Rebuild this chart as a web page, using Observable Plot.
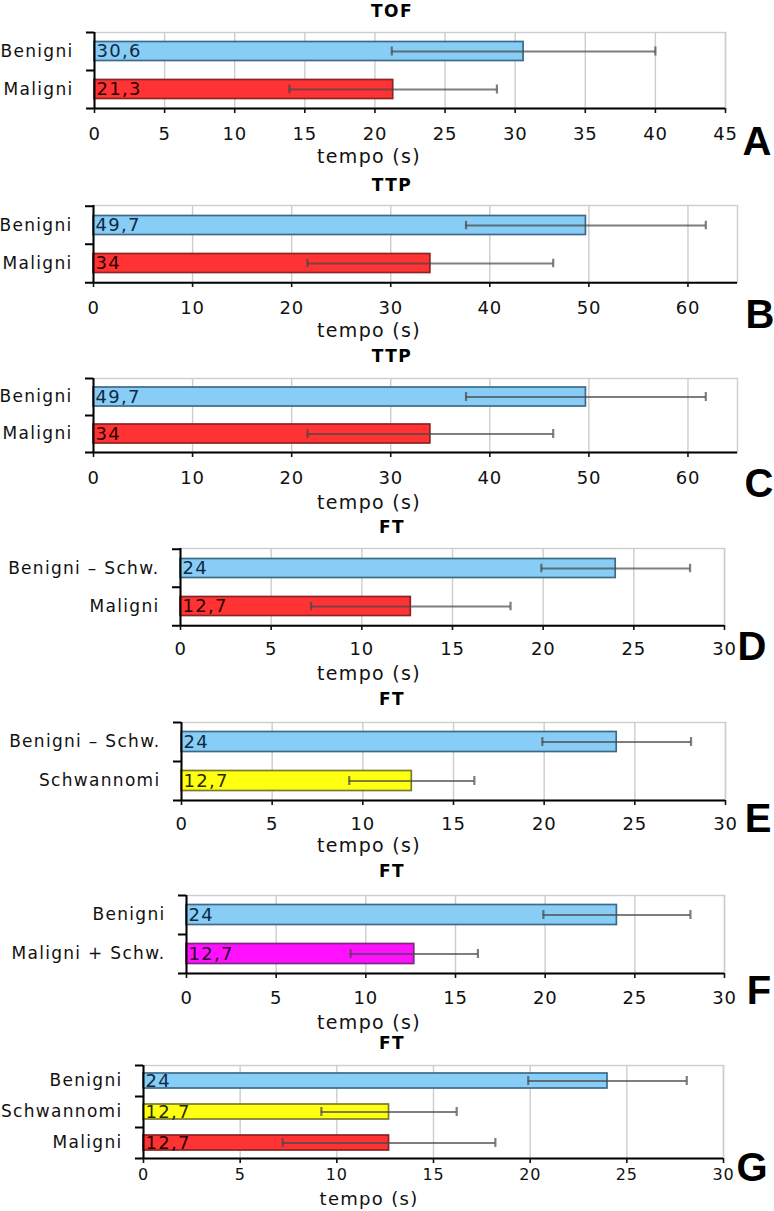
<!DOCTYPE html>
<html>
<head>
<meta charset="utf-8">
<script src="https://cdn.jsdelivr.net/npm/d3@7"></script>
<script src="https://cdn.jsdelivr.net/npm/@observablehq/plot@0.6"></script>
<style>
  html, body { margin: 0; padding: 0; background: #fff; }
  #root { position: relative; width: 774px; height: 1211px; background: #fff; overflow: hidden; font-family: "DejaVu Sans", Verdana, sans-serif; color: #1a1a1a; }
  .panel { position: absolute; left: 0; }
  .panel svg { overflow: visible; }
  .ov { position: absolute; transform: translate(-50%, -50%); white-space: nowrap; line-height: 1; }
  .ttl { font-weight: bold; font-size: 17px; letter-spacing: 1.5px; color: #000; }
  .xl { font-size: 19px; letter-spacing: 1.3px; color: #111; }
  .let { font-family: "Liberation Sans Narrow", "Liberation Sans", Arial, sans-serif; font-weight: bold; font-size: 40px; color: #000; }
  g[aria-label="x-axis tick label"] text { letter-spacing: 0.8px; }
  g[aria-label="y-axis tick label"] text { letter-spacing: 1.3px; }
  g[aria-label="text"] text { letter-spacing: 1.3px; }
</style>
</head>
<body>
<div id="root"></div>
<script>
// ---------------- data ----------------
const panelLetters = ["A", "B", "C", "D", "E", "F", "G"];
const panelTitles = ["TOF", "TTP", "TTP", "FT", "FT", "FT", "FT"];
const axisTitle = "tempo (s)";

const catsA = ["Benigni", "Maligni"];
const groupsA = ["ben", "mal"];
const meanA = [30.6, 21.3];
const errA = [9.4, 7.4];

const catsB = ["Benigni", "Maligni"];
const groupsB = ["ben", "mal"];
const meanB = [49.7, 34];
const errB = [12.1, 12.4];

const catsC = ["Benigni", "Maligni"];
const groupsC = ["ben", "mal"];
const meanC = [49.7, 34];
const errC = [12.1, 12.4];

const catsD = ["Benigni – Schw.", "Maligni"];
const groupsD = ["ben", "mal"];
const meanD = [24, 12.7];
const errD = [4.1, 5.5];

const catsE = ["Benigni – Schw.", "Schwannomi"];
const groupsE = ["ben", "schw"];
const meanE = [24, 12.7];
const errE = [4.1, 3.45];

const catsF = ["Benigni", "Maligni + Schw."];
const groupsF = ["ben", "malschw"];
const meanF = [24, 12.7];
const errF = [4.1, 3.55];

const catsG = ["Benigni", "Schwannomi", "Maligni"];
const groupsG = ["ben", "schw", "mal"];
const meanG = [24, 12.7, 12.7];
const errG = [4.1, 3.5, 5.5];

const ticksTOF = [0, 5, 10, 15, 20, 25, 30, 35, 40, 45];
const ticksTTP = [0, 10, 20, 30, 40, 50, 60];
const ticksFT = [0, 5, 10, 15, 20, 25, 30];
const maxTOF = 45, maxTTP = 65, maxFT = 30;

// ---------------- styles ----------------
const fillColors = {ben: "#88cdf6", mal: "#ff3333", schw: "#ffff10", malschw: "#ff10ff"};
const strokeColors = {ben: "#3e6a88", mal: "#8a2424", schw: "#7a7a30", malschw: "#7a2a7a"};
const textColors = {ben: "#102a44", mal: "#2a0000", schw: "#2a2a00", malschw: "#2a002a"};

// layout per panel (pixels)
const layouts = [
  {top: 32,   bottom: 108,  left: 94,  right: 725, inset: 9.5, tickPad: 14, tickFont: 18, titleY: 11,   labelY: 156,  letX: 757, letY: 141},
  {top: 205,  bottom: 282,  left: 93,  right: 737, inset: 9.5, tickPad: 14, tickFont: 18, titleY: 185,  labelY: 330,  letX: 760, letY: 314},
  {top: 378,  bottom: 452,  left: 93,  right: 737, inset: 9,   tickPad: 14, tickFont: 18, titleY: 356,  labelY: 502,  letX: 759, letY: 483},
  {top: 548,  bottom: 625,  left: 180, right: 724, inset: 9.5, tickPad: 12, tickFont: 18, titleY: 527,  labelY: 673,  letX: 752, letY: 646},
  {top: 722,  bottom: 800,  left: 181, right: 725, inset: 9.5, tickPad: 12, tickFont: 18, titleY: 699,  labelY: 845,  letX: 758, letY: 818},
  {top: 895,  bottom: 973,  left: 186, right: 724, inset: 9.5, tickPad: 13, tickFont: 18, titleY: 871,  labelY: 1022, letX: 759, letY: 990},
  {top: 1065, bottom: 1158, left: 143, right: 723, inset: 8,   tickPad: 5,  tickFont: 16, titleY: 1043, labelY: 1199, letX: 752, letY: 1167}
];

const panels = [
  [catsA, groupsA, meanA, errA, ticksTOF, maxTOF],
  [catsB, groupsB, meanB, errB, ticksTTP, maxTTP],
  [catsC, groupsC, meanC, errC, ticksTTP, maxTTP],
  [catsD, groupsD, meanD, errD, ticksFT, maxFT],
  [catsE, groupsE, meanE, errE, ticksFT, maxFT],
  [catsF, groupsF, meanF, errF, ticksFT, maxFT],
  [catsG, groupsG, meanG, errG, ticksFT, maxFT]
];

const root = document.getElementById("root");
const W = 774;
const fmt = (v) => String(v).replace(".", ",");

function overlay(text, cls, x, y, size) {
  const d = document.createElement("div");
  d.className = "ov " + cls;
  d.textContent = text;
  d.style.left = x + "px";
  d.style.top = y + "px";
  if (size) d.style.fontSize = size + "px";
  root.appendChild(d);
}

panels.forEach(([cats, groups, means, errs, ticks, xmax], i) => {
  const L = layouts[i];
  const n = cats.length;
  const fh = L.bottom - L.top;
  const bw = fh / n;
  const mt = 6, mb = 46;
  const data = cats.map((c, j) => ({cat: c, g: groups[j], v: means[j], lo: means[j] - errs[j], hi: means[j] + errs[j]}));
  const capInset = bw / 2 - 4.5;
  const errStroke = {stroke: "#474747", strokeOpacity: 0.7, strokeWidth: 2.2};

  const chart = Plot.plot({
    width: W,
    height: fh + mt + mb,
    marginTop: mt,
    marginBottom: mb,
    marginLeft: L.left,
    marginRight: W - L.right,
    x: {domain: [0, xmax]},
    y: {domain: cats, padding: 0},
    color: {type: "identity"},
    style: {fontFamily: "DejaVu Sans, Verdana, sans-serif", fontSize: "17px", color: "#111", background: "transparent", overflow: "visible"},
    marks: [
      Plot.gridX(ticks, {stroke: "#cdcdcd", strokeOpacity: 1, strokeWidth: 1.4}),
      Plot.frame({stroke: "#cdcdcd", strokeWidth: 1.4}),
      Plot.barX(data, {
        y: "cat", x: "v",
        fill: (d) => fillColors[d.g],
        stroke: (d) => strokeColors[d.g],
        strokeWidth: 1.7,
        insetTop: L.inset, insetBottom: L.inset
      }),
      Plot.text(data, {
        y: "cat", x: () => 0, text: (d) => fmt(d.v),
        textAnchor: "start", dx: 2, fontSize: 18,
        fill: (d) => textColors[d.g]
      }),
      Plot.ruleY(data, {y: "cat", x1: "lo", x2: "hi", ...errStroke}),
      Plot.tickX(data, {y: "cat", x: "lo", insetTop: capInset, insetBottom: capInset, ...errStroke}),
      Plot.tickX(data, {y: "cat", x: "hi", insetTop: capInset, insetBottom: capInset, ...errStroke}),
      Plot.ruleX([0], {stroke: "#000", strokeWidth: 2}),
      Plot.ruleY(cats, {y: (d) => d, x1: () => 0, x2: () => 0, insetLeft: -8, dy: -bw / 2, stroke: "#000", strokeWidth: 2}),
      Plot.ruleY([cats[n - 1]], {y: (d) => d, x1: () => 0, x2: () => xmax, insetLeft: -8, dy: bw / 2, stroke: "#000", strokeWidth: 2}),
      Plot.axisX(ticks, {tickSize: 5, tickPadding: L.tickPad, fontSize: L.tickFont, label: null, strokeWidth: 1.6}),
      Plot.axisY({tickSize: 0, tickPadding: 21, fontSize: 17, label: null})
    ]
  });

  const wrap = document.createElement("div");
  wrap.className = "panel";
  wrap.style.top = (L.top - mt) + "px";
  wrap.appendChild(chart);
  root.appendChild(wrap);

  overlay(panelTitles[i], "ttl", 392, L.titleY);
  overlay(axisTitle, "xl", 369, L.labelY, i === 6 ? 18 : null);
  overlay(panelLetters[i], "let", L.letX, L.letY);
});
</script>
</body>
</html>
